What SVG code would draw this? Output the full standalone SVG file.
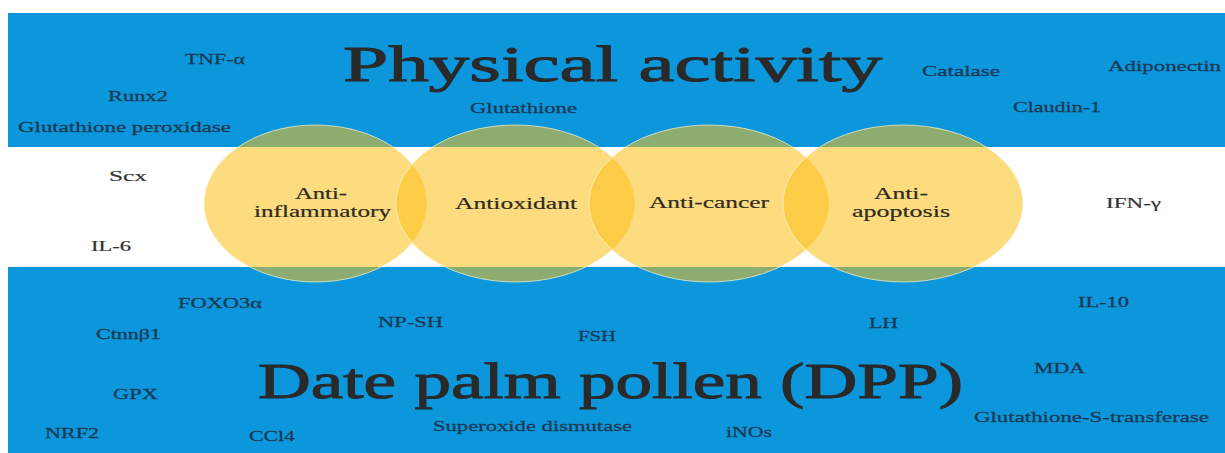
<svg xmlns="http://www.w3.org/2000/svg" width="1225" height="453" viewBox="0 0 1225 453">
<style>
.band{fill:#0c97dc}
.circ{fill:#fcbe14;fill-opacity:0.54;stroke:#fff4d0;stroke-opacity:0.7;stroke-width:1}
text{font-family:'Liberation Serif','DejaVu Serif',serif}
.lb{font-size:15.5px;fill:#173a55;stroke:#173a55;stroke-width:0.3}
.lw{font-size:15.5px;fill:#333333;stroke:#333333;stroke-width:0.2}
.nd{font-size:17.5px;fill:#2e2a22;stroke:#2e2a22;stroke-width:0.2}
.title{font-size:51px;fill:#2a2a2a;stroke:#2a2a2a;stroke-width:1}
</style>
<rect x="0" y="0" width="1225" height="453" fill="#ffffff"/>
<g id="background">
<rect class="band" x="8" y="13" width="1217" height="134"/>
<rect class="band" x="8" y="267" width="1217" height="186"/>
</g>
<g id="connectors"/>
<g font-family="Liberation Serif, DejaVu Serif, serif">
<g id="node-anti-inflammatory">
<ellipse class="circ" cx="315.5" cy="203.5" rx="111.5" ry="78.5"/>
<text class="nd" x="295" y="199" textLength="52" lengthAdjust="spacingAndGlyphs">Anti-</text>
<text class="nd" x="254" y="217" textLength="137" lengthAdjust="spacingAndGlyphs">inflammatory</text>
</g>
<g id="node-antioxidant">
<ellipse class="circ" cx="515.5" cy="203.5" rx="119.5" ry="78.5"/>
<text class="nd" x="455" y="209" textLength="122" lengthAdjust="spacingAndGlyphs">Antioxidant</text>
</g>
<g id="node-anti-cancer">
<ellipse class="circ" cx="709" cy="203.5" rx="120" ry="78.5"/>
<text class="nd" x="649" y="208" textLength="120" lengthAdjust="spacingAndGlyphs">Anti-cancer</text>
</g>
<g id="node-anti-apoptosis">
<ellipse class="circ" cx="903" cy="203.5" rx="120" ry="78.5"/>
<text class="nd" x="874" y="199" textLength="54" lengthAdjust="spacingAndGlyphs">Anti-</text>
<text class="nd" x="852" y="217" textLength="98" lengthAdjust="spacingAndGlyphs">apoptosis</text>
</g>
<g id="titles">
<text class="title" x="343" y="81" textLength="539" lengthAdjust="spacingAndGlyphs">Physical activity</text>
<text class="title" x="258" y="398" textLength="705" lengthAdjust="spacingAndGlyphs">Date palm pollen (DPP)</text>
</g>
<g id="labels">
<text class="lb" x="185" y="64" textLength="60" lengthAdjust="spacingAndGlyphs">TNF-α</text>
<text class="lb" x="108" y="101" textLength="60" lengthAdjust="spacingAndGlyphs">Runx2</text>
<text class="lb" x="18" y="132" textLength="213" lengthAdjust="spacingAndGlyphs">Glutathione peroxidase</text>
<text class="lb" x="470" y="113" textLength="107" lengthAdjust="spacingAndGlyphs">Glutathione</text>
<text class="lb" x="922" y="76" textLength="78" lengthAdjust="spacingAndGlyphs">Catalase</text>
<text class="lb" x="1108" y="71" textLength="113" lengthAdjust="spacingAndGlyphs">Adiponectin</text>
<text class="lb" x="1013" y="112" textLength="88" lengthAdjust="spacingAndGlyphs">Claudin-1</text>
<text class="lw" x="109" y="181" textLength="38" lengthAdjust="spacingAndGlyphs">Scx</text>
<text class="lw" x="91" y="251" textLength="40" lengthAdjust="spacingAndGlyphs">IL-6</text>
<text class="lw" x="1106" y="208" textLength="55" lengthAdjust="spacingAndGlyphs">IFN-γ</text>
<text class="lb" x="178" y="308" textLength="84" lengthAdjust="spacingAndGlyphs">FOXO3α</text>
<text class="lb" x="378" y="327" textLength="65" lengthAdjust="spacingAndGlyphs">NP-SH</text>
<text class="lb" x="96" y="339" textLength="65" lengthAdjust="spacingAndGlyphs">Ctnnβ1</text>
<text class="lb" x="578" y="341" textLength="38" lengthAdjust="spacingAndGlyphs">FSH</text>
<text class="lb" x="869" y="328" textLength="29" lengthAdjust="spacingAndGlyphs">LH</text>
<text class="lb" x="1078" y="307" textLength="51" lengthAdjust="spacingAndGlyphs">IL-10</text>
<text class="lb" x="1034" y="373" textLength="51" lengthAdjust="spacingAndGlyphs">MDA</text>
<text class="lb" x="113" y="399" textLength="45" lengthAdjust="spacingAndGlyphs">GPX</text>
<text class="lb" x="974" y="422" textLength="235" lengthAdjust="spacingAndGlyphs">Glutathione-S-transferase</text>
<text class="lb" x="433" y="431" textLength="199" lengthAdjust="spacingAndGlyphs">Superoxide dismutase</text>
<text class="lb" x="726" y="437" textLength="46" lengthAdjust="spacingAndGlyphs">iNOs</text>
<text class="lb" x="45" y="438" textLength="54" lengthAdjust="spacingAndGlyphs">NRF2</text>
<text class="lb" x="249" y="441" textLength="46" lengthAdjust="spacingAndGlyphs">CCl4</text>
</g>
</g>
</svg>
